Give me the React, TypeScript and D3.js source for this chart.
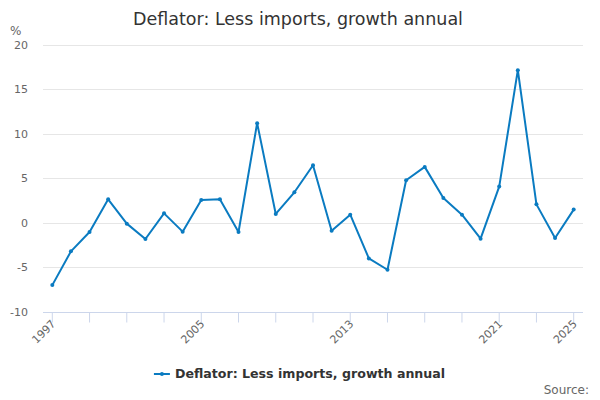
import React, { useEffect, useRef } from 'react';
import * as d3 from 'd3';

const years = [
  '1997', '1998', '1999', '2000', '2001', '2002', '2003', '2004', '2005', '2006',
  '2007', '2008', '2009', '2010', '2011', '2012', '2013', '2014', '2015', '2016',
  '2017', '2018', '2019', '2020', '2021', '2022', '2023', '2024', '2025',
];
const growth = [
  -7.03, -3.23, -1.05, 2.63, -0.11, -1.84, 1.05, -1.01, 2.56, 2.63,
  -1.05, 11.2, 0.98, 3.42, 6.46, -0.9, 0.9, -4.02, -5.3, 4.77,
  6.28, 2.78, 0.9, -1.8, 4.06, 17.17, 2.06, -1.73, 1.47,
];
const yTicks = [-10, -5, 0, 5, 10, 15, 20];
const xLabels = ['1997', '2005', '2013', '2021', '2025'];

const title = 'Deflator: Less imports, growth annual';
const seriesName = 'Deflator: Less imports, growth annual';
const lineColor = '#0a7bc1';

const App: React.FC = () => {
  const ref = useRef<SVGSVGElement | null>(null);

  useEffect(() => {
    const width = 600;
    const height = 400;
    const margin = { top: 45, right: 17, bottom: 88.5, left: 43 };
    const font = '"DejaVu Sans", sans-serif';

    const svg = d3.select(ref.current);
    svg.selectAll('*').remove();
    svg.attr('width', width).attr('height', height).style('font-family', font);

    svg.append('rect').attr('width', width).attr('height', height).attr('fill', '#fff');

    const x = d3.scalePoint<string>()
      .domain(years)
      .range([margin.left, width - margin.right])
      .padding(0.5);
    const y = d3.scaleLinear()
      .domain([-10, 20])
      .range([height - margin.bottom, margin.top]);

    // Gridlines
    svg.append('g')
      .selectAll('line')
      .data(yTicks.filter(t => t !== -10))
      .enter()
      .append('line')
      .attr('x1', margin.left)
      .attr('x2', width - margin.right)
      .attr('y1', d => Math.round(y(d)) + 0.5)
      .attr('y2', d => Math.round(y(d)) + 0.5)
      .attr('stroke', '#e6e6e6')
      .attr('stroke-width', 1);

    // Y labels
    svg.append('g')
      .selectAll('text')
      .data(yTicks)
      .enter()
      .append('text')
      .attr('x', 28)
      .attr('y', d => y(d) + 4)
      .attr('text-anchor', 'end')
      .attr('fill', '#666')
      .attr('font-size', 11)
      .text(d => String(d));

    svg.append('text')
      .attr('x', 10)
      .attr('y', 35)
      .attr('fill', '#666')
      .attr('font-size', 12)
      .text('%');

    // X axis line and ticks
    const axisY = Math.round(y(-10)) + 0.5;
    svg.append('line')
      .attr('x1', margin.left)
      .attr('x2', width - margin.right)
      .attr('y1', axisY)
      .attr('y2', axisY)
      .attr('stroke', '#ccd6eb');

    const tickYears = years.filter((_, i) => i % 2 === 0);
    svg.append('g')
      .selectAll('line')
      .data(tickYears)
      .enter()
      .append('line')
      .attr('x1', d => x(d)!)
      .attr('x2', d => x(d)!)
      .attr('y1', axisY)
      .attr('y2', axisY + 10)
      .attr('stroke', '#ccd6eb');

    svg.append('g')
      .selectAll('text')
      .data(xLabels)
      .enter()
      .append('text')
      .attr('transform', d => `translate(${x(d)! + 4},${axisY + 12}) rotate(-45)`)
      .attr('text-anchor', 'end')
      .attr('fill', '#666')
      .attr('font-size', 11)
      .text(d => d);

    // Line
    const line = d3.line<number>()
      .x((_, i) => x(years[i])!)
      .y(d => y(d));

    svg.append('path')
      .datum(growth)
      .attr('fill', 'none')
      .attr('stroke', lineColor)
      .attr('stroke-width', 2)
      .attr('stroke-linejoin', 'round')
      .attr('d', line);

    svg.append('g')
      .selectAll('circle')
      .data(growth)
      .enter()
      .append('circle')
      .attr('cx', (_, i) => x(years[i])!)
      .attr('cy', d => y(d))
      .attr('r', 2)
      .attr('fill', lineColor);

    // Title
    svg.append('text')
      .attr('x', width / 2 - 2)
      .attr('y', 25)
      .attr('text-anchor', 'middle')
      .attr('fill', '#333')
      .attr('font-size', 17.5)
      .text(title);

    // Legend
    const legend = svg.append('g').attr('transform', `translate(${width / 2},378)`);
    const legendText = legend.append('text')
      .attr('x', 10)
      .attr('y', 0)
      .attr('text-anchor', 'middle')
      .attr('fill', '#333')
      .attr('font-size', 12.6)
      .attr('font-weight', 'bold')
      .text(seriesName);
    const tw = (legendText.node() as SVGTextElement).getComputedTextLength();
    const lx = 10 - tw / 2 - 21;
    legend.append('line')
      .attr('x1', lx)
      .attr('x2', lx + 16)
      .attr('y1', -4)
      .attr('y2', -4)
      .attr('stroke', lineColor)
      .attr('stroke-width', 2);
    legend.append('circle')
      .attr('cx', lx + 8)
      .attr('cy', -4)
      .attr('r', 2)
      .attr('fill', lineColor);

    // Source
    svg.append('text')
      .attr('x', 589)
      .attr('y', 394)
      .attr('text-anchor', 'end')
      .attr('fill', '#666')
      .attr('font-size', 12)
      .text('Source:');
  }, []);

  return <svg ref={ref} style={{ display: 'block', position: 'absolute', left: 0, top: 0 }} />;
};

export default App;
